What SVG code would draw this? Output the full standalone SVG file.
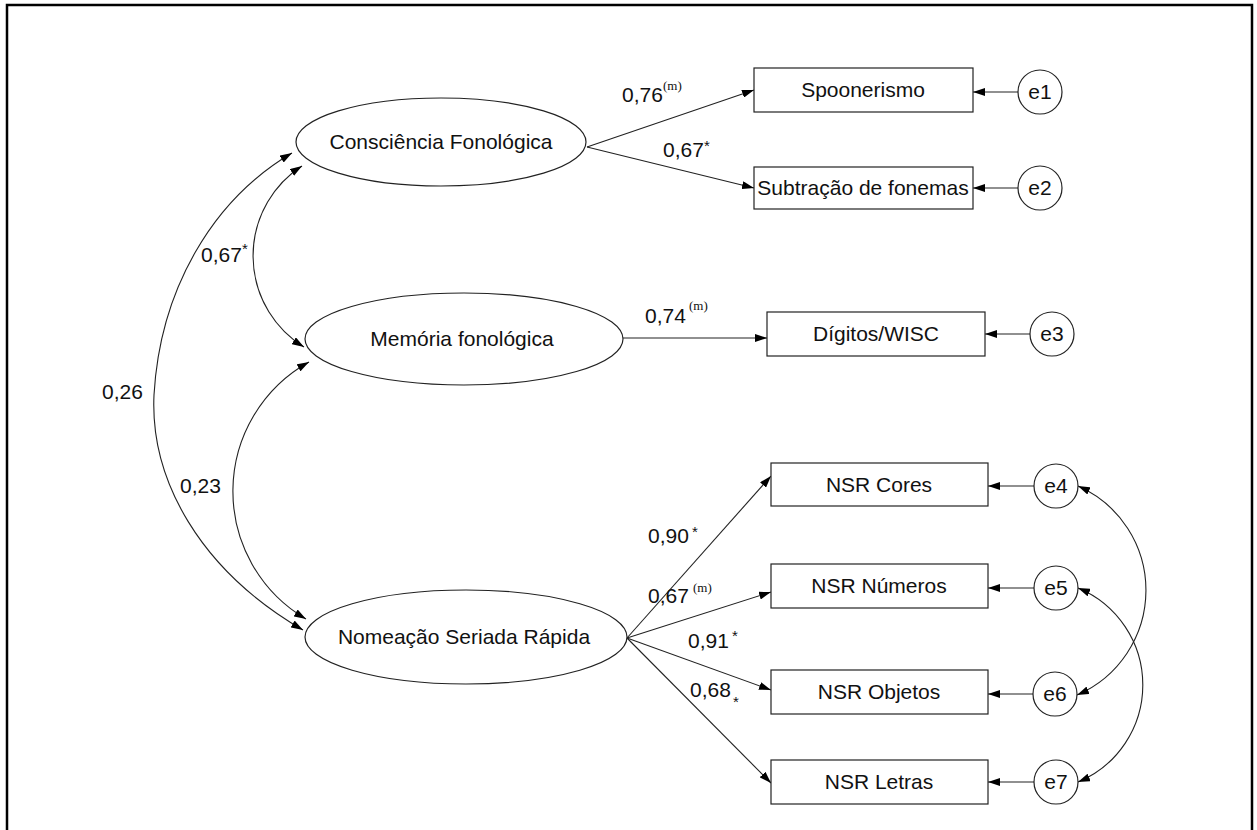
<svg xmlns="http://www.w3.org/2000/svg" width="1257" height="830" viewBox="0 0 1257 830">
<defs>
<marker id="ah" viewBox="0 0 12 8" refX="12" refY="4" markerWidth="12" markerHeight="8" markerUnits="userSpaceOnUse" orient="auto-start-reverse">
<path d="M0,0 L12,4 L0,8 z" fill="#000"/>
</marker>
<style>
.n{fill:#fff;stroke:#222;stroke-width:1.2}
.t{font-family:"Liberation Sans",Arial,sans-serif;font-size:21px;fill:#111;text-anchor:middle}
.l{font-family:"Liberation Sans",Arial,sans-serif;font-size:21px;fill:#111}
.sup{font-family:"Liberation Serif","Times New Roman",serif;font-size:13px;fill:#111}
.ast{font-family:"Liberation Sans",Arial,sans-serif;font-size:15px;fill:#111}
.c{fill:none;stroke:#222;stroke-width:1.1}
.a{marker-end:url(#ah)}
.b{marker-start:url(#ah);marker-end:url(#ah)}
</style>
</defs>
<rect width="1257" height="830" fill="#fff"/>
<path d="M7,830 V5 H1252 V830" fill="none" stroke="#000" stroke-width="2.5"/>

<g id="connectors">
<line class="c a" x1="587" y1="147" x2="754" y2="90"/>
<line class="c a" x1="587" y1="147" x2="754" y2="188"/>
<line class="c a" x1="623" y1="338" x2="767" y2="338"/>
<line class="c a" x1="627" y1="638" x2="771" y2="476"/>
<line class="c a" x1="627" y1="638" x2="771" y2="592"/>
<line class="c a" x1="627" y1="638" x2="771" y2="690"/>
<line class="c a" x1="627" y1="638" x2="771" y2="783"/>
<line class="c a" x1="1018" y1="92" x2="973" y2="92"/>
<line class="c a" x1="1018" y1="188" x2="973" y2="188"/>
<line class="c a" x1="1030" y1="334" x2="985" y2="334"/>
<line class="c a" x1="1034" y1="486" x2="988" y2="486"/>
<line class="c a" x1="1034" y1="588" x2="988" y2="588"/>
<line class="c a" x1="1033" y1="694" x2="988" y2="694"/>
<line class="c a" x1="1034" y1="782" x2="988" y2="782"/>
<path class="c b" d="M292,153 C212,200 160,290 154,395 C150,480 200,570 303,630"/>
<path class="c b" d="M302,166 A107,107 0 0 0 304,347"/>
<path class="c b" d="M309,362 A148,148 0 0 0 306,619"/>
<path class="c b" d="M1078,486 A114,114 0 0 1 1077,695"/>
<path class="c b" d="M1078,588 A105,105 0 0 1 1078,782"/>
</g>

<g id="labels">
<text class="l" x="622" y="102">0,76</text><text class="sup" x="663" y="90">(m)</text>
<text class="l" x="663" y="157">0,67</text><text class="ast" x="704" y="151">*</text>
<text class="l" x="645" y="323">0,74</text><text class="sup" x="689" y="310">(m)</text>
<text class="l" x="201" y="262">0,67</text><text class="ast" x="242" y="254">*</text>
<text class="l" x="102" y="399">0,26</text>
<text class="l" x="180" y="493">0,23</text>
<text class="l" x="648" y="543">0,90</text><text class="ast" x="692" y="537">*</text>
<text class="l" x="648" y="603">0,67</text><text class="sup" x="693" y="592">(m)</text>
<text class="l" x="688" y="648">0,91</text><text class="ast" x="732" y="641">*</text>
<text class="l" x="690" y="697">0,68</text><text class="ast" x="733" y="707">*</text>
</g>

<g id="cf"><ellipse class="n" cx="441" cy="142" rx="145" ry="44"/><text class="t" x="441" y="149">Consciência Fonológica</text></g>
<g id="mf"><ellipse class="n" cx="464" cy="339" rx="159" ry="46"/><text class="t" x="462" y="346">Memória fonológica</text></g>
<g id="nsr"><ellipse class="n" cx="466" cy="637" rx="161" ry="47"/><text class="t" x="464" y="644">Nomeação Seriada Rápida</text></g>

<g id="spoonerismo"><rect class="n" x="754" y="68" width="219" height="44"/><text class="t" x="863" y="97">Spoonerismo</text></g>
<g id="subtracao"><rect class="n" x="754" y="167" width="219" height="42"/><text class="t" x="863" y="195">Subtração de fonemas</text></g>
<g id="digitos"><rect class="n" x="767" y="312" width="218" height="44"/><text class="t" x="876" y="341">Dígitos/WISC</text></g>
<g id="cores"><rect class="n" x="771" y="463" width="217" height="43"/><text class="t" x="879" y="492">NSR Cores</text></g>
<g id="numeros"><rect class="n" x="771" y="564" width="217" height="44"/><text class="t" x="879" y="593">NSR Números</text></g>
<g id="objetos"><rect class="n" x="771" y="670" width="217" height="44"/><text class="t" x="879" y="699">NSR Objetos</text></g>
<g id="letras"><rect class="n" x="771" y="760" width="217" height="44"/><text class="t" x="879" y="789">NSR Letras</text></g>

<g id="e1"><circle class="n" cx="1040" cy="92" r="22"/><text class="t" x="1040" y="99">e1</text></g>
<g id="e2"><circle class="n" cx="1040" cy="188" r="22"/><text class="t" x="1040" y="195">e2</text></g>
<g id="e3"><circle class="n" cx="1052" cy="334" r="22"/><text class="t" x="1052" y="341">e3</text></g>
<g id="e4"><circle class="n" cx="1056" cy="486" r="22"/><text class="t" x="1056" y="493">e4</text></g>
<g id="e5"><circle class="n" cx="1056" cy="588" r="22"/><text class="t" x="1056" y="595">e5</text></g>
<g id="e6"><circle class="n" cx="1055" cy="694" r="22"/><text class="t" x="1055" y="701">e6</text></g>
<g id="e7"><circle class="n" cx="1056" cy="782" r="22"/><text class="t" x="1056" y="789">e7</text></g>
</svg>
